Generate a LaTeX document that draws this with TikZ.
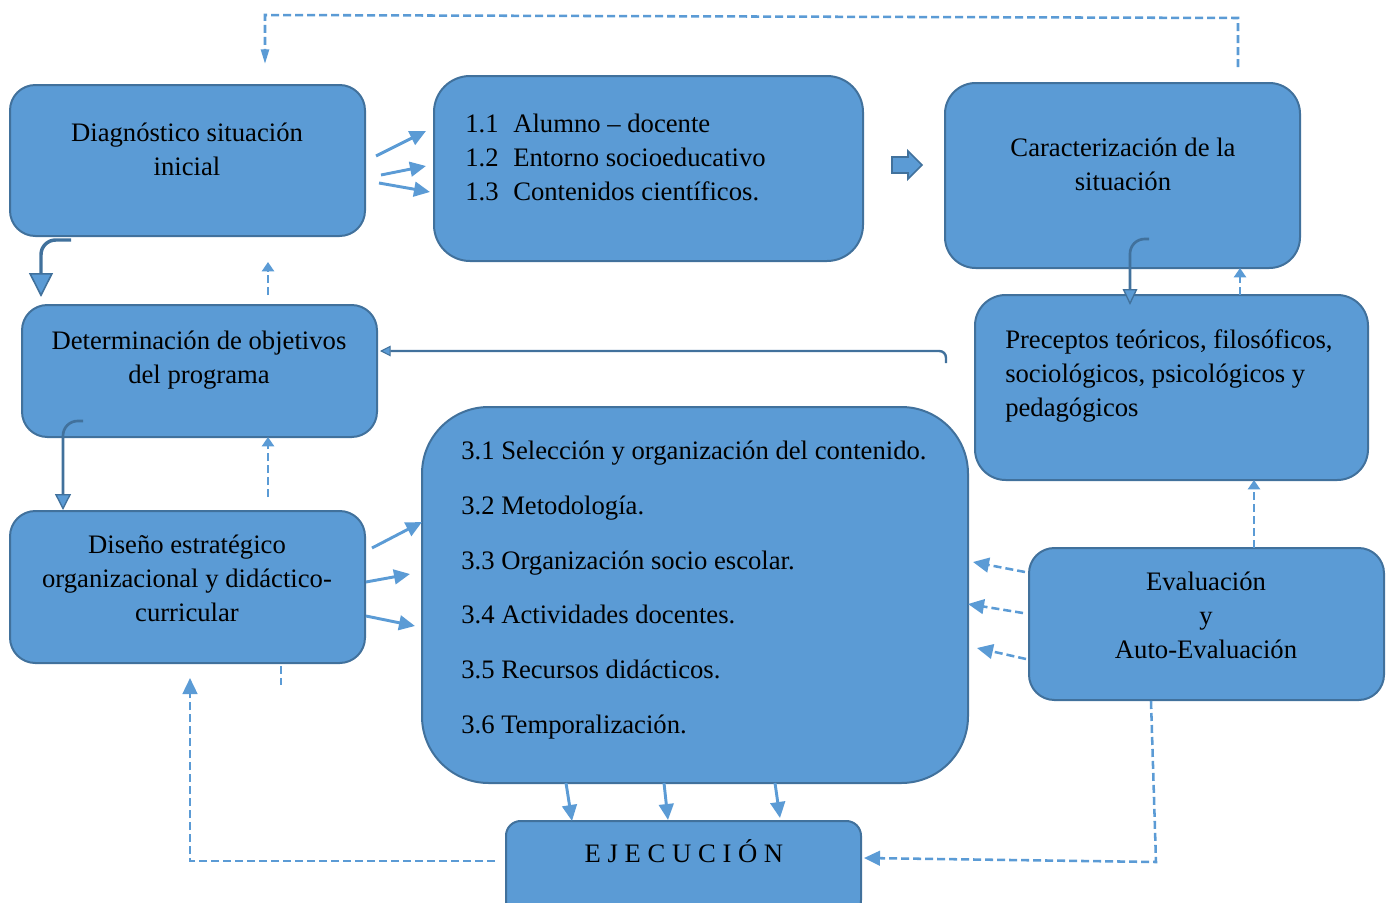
\documentclass[tikz,border=0pt]{standalone}
\usepackage{fontspec}
\setmainfont{Liberation Serif}
\usetikzlibrary{arrows.meta,fit}
\definecolor{fillb}{RGB}{91,155,213}
\definecolor{edgeb}{RGB}{65,113,156}
\tikzset{
  box/.style={draw=edgeb, fill=fillb, line width=1.5pt, inner sep=0pt},
  txt/.style={font=\fontsize{20}{25.5}\selectfont, text=black, inner sep=0pt},
  larr/.style={draw=fillb, line width=2.2pt, -{Triangle[length=12pt,width=11pt]}},
  darr/.style={draw=fillb, line width=1.9pt, dash pattern=on 6pt off 3pt, -{Triangle[length=12pt,width=11pt]}},
  sdarr/.style={draw=fillb, line width=1.9pt, dash pattern=on 6pt off 3pt, -{Triangle[length=7pt,width=9pt]}},
  dline/.style={draw=fillb, line width=1.9pt, dash pattern=on 6pt off 3pt},
  carr/.style={draw=edgeb, line width=2.3pt, rounded corners=11pt},
}
\begin{document}
\begin{tikzpicture}[x=0.75pt,y=-0.75pt]
\useasboundingbox (0,0) rectangle (1390,903);
\clip (0,0) rectangle (1390,903);

% boxes
\node[box, rounded corners=19pt, fit={(10,85)(365,236)}] (b1) {};
\node[box, rounded corners=27pt, fit={(434,76)(863,261)}] (b2) {};
\node[box, rounded corners=23pt, fit={(945,83)(1300,268)}] (b3) {};
\node[box, rounded corners=19pt, fit={(22,305)(377,437)}] (b4) {};
\node[box, rounded corners=23pt, fit={(975,295)(1368,480)}] (b5) {};
\node[box, rounded corners=50pt, fit={(422,407)(968,783)}] (b6) {};
\node[box, rounded corners=19pt, fit={(10,511)(365,663)}] (b7) {};
\node[box, rounded corners=19pt, fit={(1029,548)(1384,700)}] (b8) {};
\node[box, rounded corners=11pt, fit={(506,821)(861,915)}] (b9) {};

% texts
\node[txt, align=center] (t1) at (187,149) {Diagnóstico situación\\inicial};
\node[txt, align=left, anchor=west] (t2) at (465,157) {\makebox[36pt][l]{1.1}Alumno – docente\\\makebox[36pt][l]{1.2}Entorno socioeducativo\\\makebox[36pt][l]{1.3}Contenidos científicos.};
\node[txt, align=center] (t3) at (1123,164) {Caracterización de la\\situación};
\node[txt, align=center] (t4) at (199,360) {Determinación de objetivos\\del programa};
\node[txt, align=left, anchor=west] (t5) at (1005,376) {Preceptos teóricos, filosóficos,\\sociológicos, psicológicos y\\pedagógicos};
\node[txt, align=left, anchor=west, font=\fontsize{20}{41}\selectfont] (t6) at (461,590) {3.1 Selección y organización del contenido.\\3.2 Metodología.\\3.3 Organización socio escolar.\\3.4 Actividades docentes.\\3.5 Recursos didácticos.\\3.6 Temporalización.};
\node[txt, align=center] (t7) at (187,578) {Diseño estratégico\\organizacional y didáctico-\\curricular};
\node[txt, align=center] (t8) at (1206,615) {Evaluación\\y\\Auto-Evaluación};
\node[txt] (t9) at (684,851) {E J E C U C I Ó N};

% block arrow
\path[fill=fillb, draw=edgeb, line width=1.3pt] (892,157) -- (908,157) -- (908,151) -- (922,165) -- (908,179) -- (908,173) -- (892,173) -- cycle;

% coordinates
\coordinate (a1s) at (376,156); \coordinate (a1e) at (426,131);
\coordinate (a2s) at (381,175); \coordinate (a2e) at (426,166);
\coordinate (a3s) at (379,183); \coordinate (a3e) at (430,192);
\coordinate (d1s) at (372,548); \coordinate (d1e) at (422,522);
\coordinate (d2s) at (366,582); \coordinate (d2e) at (410,574);
\coordinate (d3s) at (366,616); \coordinate (d3e) at (415,626);
\coordinate (e1s) at (1025,572); \coordinate (e1e) at (973,562);
\coordinate (e2s) at (1023,613); \coordinate (e2e) at (968,604);
\coordinate (e3s) at (1026,659); \coordinate (e3e) at (977,648);
\coordinate (x1s) at (566,783); \coordinate (x1e) at (572,821);
\coordinate (x2s) at (664,783); \coordinate (x2e) at (668,820);
\coordinate (x3s) at (775,783); \coordinate (x3e) at (780,818);

% light solid arrows
\draw[larr] (a1s) -- (a1e);
\draw[larr] (a2s) -- (a2e);
\draw[larr] (a3s) -- (a3e);
\draw[larr] (d1s) -- (d1e);
\draw[larr] (d2s) -- (d2e);
\draw[larr] (d3s) -- (d3e);
\draw[larr] (x1s) -- (x1e);
\draw[larr] (x2s) -- (x2e);
\draw[larr] (x3s) -- (x3e);

% dashed arrows from evaluation
\draw[darr] (e1s) -- (e1e);
\draw[darr] (e2s) -- (e2e);
\draw[darr] (e3s) -- (e3e);

% curved dark arrows
\coordinate (c1s) at (71,240); \coordinate (c1e) at (41,297);
\draw[carr, line width=2.6pt, -{Triangle[length=18pt,width=18pt,fill=fillb,line width=1.2pt]}] (c1s) -- (41,240) -- (c1e);
\coordinate (c2s) at (83,421); \coordinate (c2e) at (63,510);
\draw[carr, line width=2pt, -{Triangle[length=12pt,width=12pt,fill=fillb,line width=1pt]}] (c2s) -- (63,421) -- (c2e);
\coordinate (c3s) at (1149,239); \coordinate (c3e) at (1130,305);
\draw[carr, line width=2pt, -{Triangle[length=12pt,width=11pt,fill=fillb,line width=1pt]}] (c3s) -- (1130,239) -- (c3e);
\coordinate (c4s) at (946,363); \coordinate (c4e) at (380,351);
\draw[draw=edgeb, line width=1.8pt, rounded corners=5pt, -{Triangle[length=8pt,width=8pt,fill=fillb,line width=0.8pt]}] (c4s) -- (946,351) -- (c4e);

% vertical short dashed arrows
\coordinate (v1s) at (268,295); \coordinate (v1e) at (268,262);
\draw[sdarr] (v1s) -- (v1e);
\coordinate (v2s) at (268,497); \coordinate (v2e) at (268,437);
\draw[sdarr] (v2s) -- (v2e);
\coordinate (v3s) at (1240,295); \coordinate (v3e) at (1240,268);
\draw[sdarr] (v3s) -- (v3e);
\coordinate (v4s) at (1254,548); \coordinate (v4e) at (1254,480);
\draw[sdarr] (v4s) -- (v4e);
\coordinate (v5s) at (281,666); \coordinate (v5e) at (281,685);
\draw[dline] (v5s) -- (v5e);

% top loop
\coordinate (l1s) at (1238,67); \coordinate (l1e) at (265,64);
\draw[dline, -{Triangle[length=11pt,width=6pt]}] (l1s) -- (1238,18) -- (265,15) -- (l1e);

% bottom left loop
\coordinate (l2s) at (495,861); \coordinate (l2e) at (190,678);
\draw[darr] (l2s) -- (190,861) -- (l2e);

% bottom right loop
\coordinate (l3s) at (1151,701); \coordinate (l3e) at (864,858);
\draw[darr] (l3s) -- (1156,862) -- (l3e);

\end{tikzpicture}
\end{document}
